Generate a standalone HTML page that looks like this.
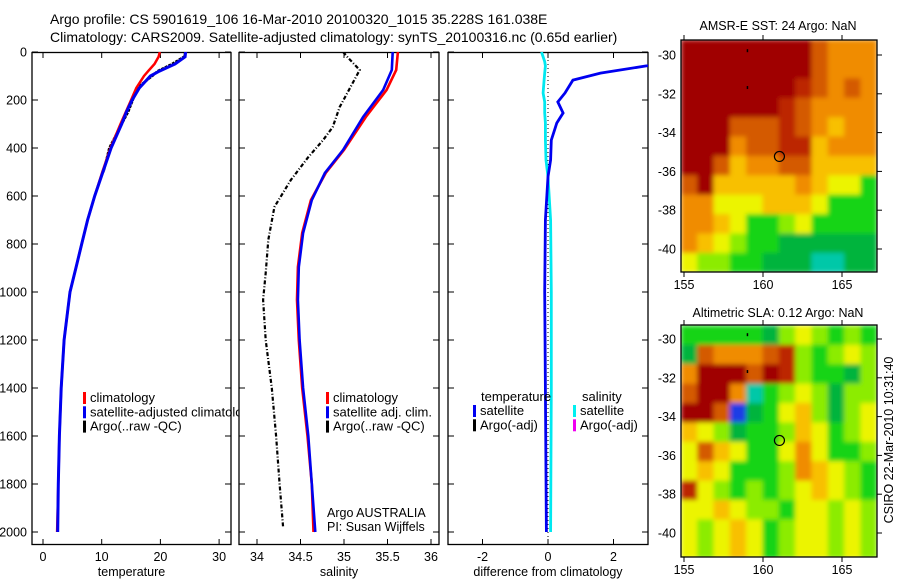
<!DOCTYPE html>
<html><head><meta charset="utf-8">
<style>
html,body{margin:0;padding:0;background:#fff;}
svg{display:block;font-family:"Liberation Sans",sans-serif;}
text{fill:#000;}
</style></head>
<body>
<svg id="fig" width="900" height="580" viewBox="0 0 900 580" xmlns="http://www.w3.org/2000/svg">
<defs><filter id="soft" x="-5%" y="-5%" width="110%" height="110%"><feGaussianBlur stdDeviation="2.5" edgeMode="duplicate"/></filter></defs>
<text x="50" y="24" font-size="14">Argo profile: CS 5901619_106 16-Mar-2010 20100320_1015 35.228S 161.038E</text>
<text x="50" y="42" font-size="14">Climatology: CARS2009. Satellite-adjusted climatology: synTS_20100316.nc (0.65d earlier)</text>
<g id="g"></g>
</svg>
<script>
// ---------- data ----------
const depthTicks=[0,200,400,600,800,1000,1200,1400,1600,1800,2000];
const tempTicks=[0,10,20,30];
const salTicks=[34,34.5,35,35.5,36];
const salTickLabels=["34","34.5","35","35.5","36"];
const diffTicks=[-2,0,2];
const tDepth=[0,20,50,80,100,150,200,250,300,400,500,600,700,800,900,1000,1200,1400,1600,1800,2000];
const tSat=[24.3,24.2,22.5,19.8,18.3,16.4,15.2,14.2,13.4,11.6,10.2,8.8,7.6,6.6,5.6,4.6,3.6,3.1,2.8,2.6,2.5];
const tClim=[19.9,19.7,19.0,17.9,17.2,15.9,15.0,14.1,13.2,11.5,10.1,8.8,7.6,6.6,5.6,4.6,3.6,3.1,2.8,2.6,2.4];
const tArgoDepth=[0,20,50,80,100,150,200,250,300,400,500];
const tArgo=[24.3,24.0,22.0,19.5,18.6,16.0,15.3,14.5,13.4,11.3,10.3];
const sDepth=[0,75,158,271,408,504,617,754,896,1033,1200,1400,1600,1800,2000];
const sSat=[35.56,35.55,35.45,35.22,34.99,34.78,34.63,34.53,34.48,34.47,34.49,34.53,34.59,34.63,34.67];
const sClim=[35.62,35.6,35.49,35.25,35.0,34.79,34.62,34.52,34.47,34.46,34.48,34.52,34.58,34.63,34.65];
const sArgoDepth=[0,25,75,129,229,313,367,438,533,646,783,921,1033,1200,1400,1600,1800,1980];
const sArgo=[34.99,35.05,35.18,35.1,34.95,34.87,34.76,34.59,34.39,34.2,34.13,34.1,34.07,34.1,34.17,34.22,34.26,34.3];
const dDepth=[0,40,58,88,117,171,208,254,296,367,450,520,700,1000,1400,2000];
const dTemp=[4.4,4.3,3.0,1.6,0.76,0.52,0.3,0.46,0.27,0.1,0.08,0.0,-0.08,-0.1,-0.08,-0.05];
const dSal=[-0.2,-0.1,-0.08,-0.1,-0.12,-0.15,-0.1,-0.1,-0.08,-0.08,-0.06,0.0,0.08,0.1,0.1,0.08];
const lonTicks=[155,160,165];
const latTicks=[-30,-32,-34,-36,-38,-40];
const palette=['#1e3ce6','#00c8a8','#00b43c','#18d418','#8cec00','#ecf400','#f8c000','#f08c00','#d45a00','#bc2800','#a00000'];
const sstGrid=[
[9,9,9,9,9,9,9,9,7,6,6,6],
[9,9,9,9,9,9,9,9,7,6,6,6],
[9,9,9,9,9,9,9,8,7,6,7,6],
[9,9,9,9,9,9,8,7,6,6,6,6],
[9,9,9,7,7,7,8,7,6,5,6,6],
[9,9,9,6,7,7,8,8,5,6,6,6],
[9,9,7,5,6,6,7,7,5,5,5,5],
[7,9,5,5,5,5,5,6,5,4,4,2],
[6,6,4,4,4,5,5,5,4,2,2,2],
[6,6,5,4,2,2,3,4,2,2,2,2],
[6,5,4,3,2,2,1,1,1,1,1,1],
[4,3,3,2,2,1,1,1,0,0,1,1]];
const slaGrid=[
[2,2,2,2,2,1,3,4,3,2,3,2],
[1,7,6,6,6,7,8,3,2,3,4,3],
[6,9,9,9,7,9,8,3,2,2,1,3],
[7,9,9,6,0,2,3,4,3,1,3,3],
[9,9,7,-1,1,2,4,5,3,1,3,4],
[5,4,3,1,2,2,3,5,4,2,3,4],
[4,7,5,4,2,2,4,6,4,2,2,3],
[4,5,4,2,2,2,3,6,5,4,3,2],
[8,4,3,2,3,2,3,4,5,4,3,2],
[4,4,5,4,3,3,2,4,4,3,4,3],
[4,3,4,5,4,2,3,4,4,3,4,3],
[4,3,4,5,4,2,3,4,4,3,4,3]];
const argoLon=161.04, argoLat=-35.23;

// ---------- helpers ----------
const NS='http://www.w3.org/2000/svg';
const G=document.getElementById('g');
function mk(tag,attrs,parent){const e=document.createElementNS(NS,tag);for(const k in attrs)e.setAttribute(k,attrs[k]);(parent||G).appendChild(e);return e;}
function txt(x,y,s,size,anchor,parent){const t=mk('text',{x:x,y:y,'font-size':size,'text-anchor':anchor||'start'},parent);t.textContent=s;return t;}
const yDepth=d=>52+d*0.24;
const xT=v=>43+v*5.87;
const xS=v=>257+(v-34)*87;
const xDf=v=>548+v*32.75;

function panel(name,x0,x1,ticks,xf,labels,xlabel){
  const p=mk('g',{});
  
  
  const clipId=name+'-clip';
  const cp=mk('clipPath',{id:clipId},p);mk('rect',{x:x0,y:52,width:x1-x0,height:493},cp);
  const fr=mk('rect',{x:x0,y:52.5,width:x1-x0,height:492,fill:'#fff',stroke:'#000','stroke-width':1.3},p);
  
  
  ticks.forEach((t,i)=>{const x=xf(t);
    mk('line',{x1:x,x2:x,y1:545,y2:539,stroke:'#000'},p);
    mk('line',{x1:x,x2:x,y1:52,y2:58,stroke:'#000'},p);
    const l=txt(x,561,labels[i],12.5,'middle',p);
    
    });
  depthTicks.forEach(d=>{const y=yDepth(d);
    mk('line',{x1:x0,x2:x0+6,y1:y,y2:y,stroke:'#000'},p);
    mk('line',{x1:x1,x2:x1-6,y1:y,y2:y,stroke:'#000'},p);});
  const xl=txt((x0+x1)/2,576,xlabel,12.5,'middle',p);
  
  
  const inner=mk('g',{'clip-path':'url(#'+clipId+')'},p);
  return inner;
}
function line(parent,xs,ds,xf,color,w,dash,name){
  const pts=xs.map((v,i)=>xf(v).toFixed(1)+','+yDepth(ds[i]).toFixed(1)).join(' ');
  const a={points:pts,fill:'none',stroke:color,'stroke-width':w};
  if(dash)a['stroke-dasharray']=dash;
  const e=mk('polyline',a,parent);
  
  
}
function legend(parent,x,y,items,size){
  items.forEach((it,i)=>{
    const r=mk('rect',{x:x,y:y+i*14.3-10,width:3,height:12,fill:it[1]},parent);
    
    
    const t=txt(x+7,y+i*14.3,it[0],size,'start',parent);
    
    
  });
}

// depth labels
depthTicks.forEach(d=>{const t=txt(27,yDepth(d)+4.5,String(d),12.5,'end');
  
  });

// ---------- temperature panel ----------
const pT=panel('temperature-panel',32,231,tempTicks,xT,tempTicks.map(String),'temperature');
line(pT,tArgo,tArgoDepth,xT,'#000',2.5,'3,1','argo-temperature-line');
line(pT,tClim,tDepth,xT,'#f00',2.5,null,'climatology-temperature-line');
line(pT,tSat,tDepth,xT,'#0000f0',3,null,'satellite-temperature-line');
const tLegClip=mk('clipPath',{id:'tleg-clip'});mk('rect',{x:32,y:380,width:208,height:60},tLegClip);
const tLeg=mk('g',{'clip-path':'url(#tleg-clip)'});
legend(tLeg,83,402,[['climatology','#f00'],['satellite-adjusted climatology','#0000f0'],['Argo(..raw -QC)','#000']],13);

// ---------- salinity panel ----------
const pS=panel('salinity-panel',239,439,salTicks,xS,salTickLabels,'salinity');
line(pS,sArgo,sArgoDepth,xS,'#000',2.2,'4,2,1,2','argo-salinity-line');
line(pS,sClim,sDepth,xS,'#f00',2.6,null,'climatology-salinity-line');
line(pS,sSat,sDepth,xS,'#0000f0',2.6,null,'satellite-salinity-line');
legend(G,326,402,[['climatology','#f00'],['satellite adj. clim.','#0000f0'],['Argo(..raw -QC)','#000']],13);
txt(327,517,'Argo AUSTRALIA',12.5);
txt(327,531,'PI: Susan Wijffels',12.5);

// ---------- difference panel ----------
const pD=panel('difference-panel',448,648,diffTicks,xDf,['-2','0','2'],'difference from climatology');
mk('line',{x1:xDf(0),x2:xDf(0),y1:52,y2:545,stroke:'#000','stroke-dasharray':'1,3'},pD);
line(pD,dSal,dDepth,xDf,'#00e8f0',2.8,null,'salinity-difference-line');
line(pD,dTemp,dDepth,xDf,'#0000f0',2.8,null,'temperature-difference-line');
txt(481,401,'temperature',13);
txt(582,401,'salinity',13);
legend(G,473,415,[['satellite','#0000f0'],['Argo(-adj)','#000']],13);
legend(G,573,415,[['satellite','#00f0f0'],['Argo(-adj)','#f000f0']],13);

// ---------- maps ----------
function map(name,y0,y1,latTop,grid,title,titleY){
  const x0=681,x1=877;
  const lonX=l=>684+(l-155)*15.8;
  const latY=l=>(name==='sst-map'?55:339)+(-30-l)*19.4;
  const m=mk('g',{});
  
  
  const cp=mk('clipPath',{id:name+'-clip'},m);mk('rect',{x:x0,y:y0,width:x1-x0,height:y1-y0},cp);
  const clipG=mk('g',{'clip-path':'url(#'+name+'-clip)'},m);
  const cells=mk('g',{filter:'url(#soft)'},clipG);
  const rows=grid.length,cols=grid[0].length;
  const lonL=154.8,lonR=167.2,latB=latTop-12;
  const dl=(lonR-lonL)/cols,dp=(latTop-latB)/rows;
  grid.forEach((row,r)=>row.forEach((v,c)=>{
    const xa=lonX(lonL+c*dl),xb=lonX(lonL+(c+1)*dl);
    const ya=latY(latTop-r*dp),yb=latY(latTop-(r+1)*dp);
    const cell=mk('rect',{x:xa.toFixed(1),y:ya.toFixed(1),width:(xb-xa+0.6).toFixed(1),height:(yb-ya+0.6).toFixed(1),fill:palette[v+1]},cells);
    
    
  }));
  mk('rect',{x:x0,y:y0,width:x1-x0,height:y1-y0,fill:'none',stroke:'#000','stroke-width':1.3},m);
  lonTicks.forEach(l=>{const x=lonX(l);
    mk('line',{x1:x,x2:x,y1:y1,y2:y1+5,stroke:'#000'},m);
    mk('line',{x1:x,x2:x,y1:y0,y2:y0-5,stroke:'#000'},m);
    const t=txt(x,y1+17,String(l),12.5,'middle',m);
    
    });
  latTicks.forEach(l=>{const y=latY(l);
    mk('line',{x1:x1,x2:x1+5,y1:y,y2:y,stroke:'#000'},m);
    const t=txt(676,y+4.5,String(l),12.5,'end',m);
    
    });
  mk('circle',{cx:lonX(argoLon),cy:latY(argoLat),r:5,fill:'none',stroke:'#000','stroke-width':1.2},m);
  mk('rect',{x:lonX(159)-0.5,y:latY(-29.7),width:1.5,height:3,fill:'#000'},m);
  mk('rect',{x:lonX(159)-0.5,y:latY(-31.6),width:1.5,height:3,fill:'#000'},m);
  const tt=txt(778,titleY,title,12.5,'middle',m);
  
  
}
map('sst-map',40,272,-29.2,sstGrid,'AMSR-E SST: 24 Argo: NaN',30);
map('sla-map',325,557,-29.3,slaGrid,'Altimetric SLA: 0.12 Argo: NaN',317);
const side=txt(0,0,'CSIRO 22-Mar-2010 10:31:40',12.5,'middle');
side.setAttribute('transform','translate(893,440) rotate(-90)');


</script>
</body></html>
